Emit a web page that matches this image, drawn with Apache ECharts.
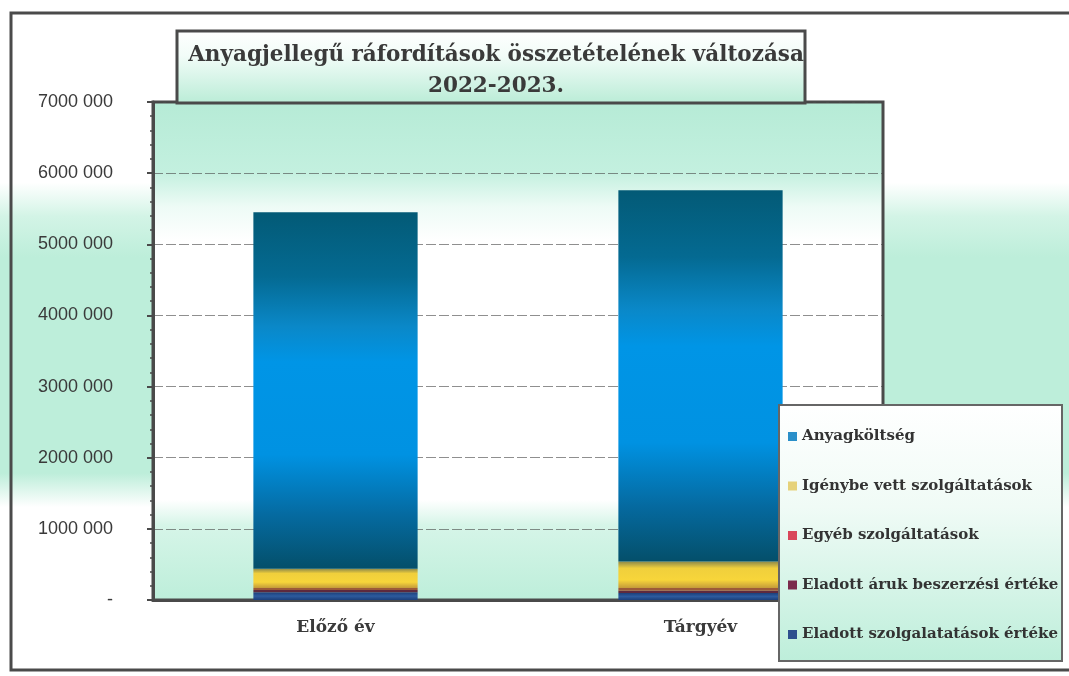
<!DOCTYPE html>
<html>
<head>
<meta charset="utf-8">
<script src="https://cdn.jsdelivr.net/npm/echarts@6/dist/echarts.min.js"></script>
<style>html,body{margin:0;padding:0;background:#fff}#c{width:1069px;height:676px}</style>
</head>
<body>
<div id="c"></div>
<script>
const categories = ['Előző év', 'Tárgyév'];
const seriesNames = ['Anyagköltség', 'Igénybe vett szolgáltatások', 'Egyéb szolgáltatások', 'Eladott áruk beszerzési értéke', 'Eladott szolgalatatások értéke'];
const anyagkoltseg = [5010000, 5220000];
const igenybeVett = [270000, 370000];
const egyebSzolg = [30000, 40000];
const eladottAruk = [30000, 30000];
const eladottSzolg = [110000, 100000];
const yMin = 0, yMax = 7000000, yStep = 1000000;
const titleText = 'Anyagjellegű ráfordítások összetételének változása\n2022-2023.';

const mint = '#bdeeda';
function vgrad(stops) {
  return new echarts.graphic.LinearGradient(0, 0, 0, 1, stops.map(s => ({ offset: s[0], color: s[1] })));
}
const chart = echarts.init(document.getElementById('c'));
const barW = '45%';
const option = {
  animation: false,
  title: {
    text: titleText, left: 491, top: 35, textAlign: 'center', z: 20,
    textStyle: { fontFamily: 'DejaVu Serif', fontWeight: 'bold', fontSize: 21.5, lineHeight: 31, color: '#3a3a3a' }
  },
  legend: {
    orient: 'vertical', left: 783, top: 424, itemGap: 34.5, itemWidth: 9, itemHeight: 9, z: 20,
    icon: 'rect',
    textStyle: { fontFamily: 'DejaVu Serif', fontWeight: 'bold', fontSize: 15, color: '#333' },
    data: [
      { name: seriesNames[0], itemStyle: { color: '#2a8fc9' } },
      { name: seriesNames[1], itemStyle: { color: '#e6d27a' } },
      { name: seriesNames[2], itemStyle: { color: '#d9475a' } },
      { name: seriesNames[3], itemStyle: { color: '#7b2a4c' } },
      { name: seriesNames[4], itemStyle: { color: '#2d4f8e' } }
    ]
  },
  grid: {
    left: 153, right: 186, top: 102, bottom: 76, show: true,
    borderColor: '#4a4a4a', borderWidth: 3, backgroundColor: 'transparent'
  },
  xAxis: {
    type: 'category', data: categories,
    axisLine: { lineStyle: { color: '#4a4a4a', width: 3 } },
    axisTick: { length: 5, lineStyle: { color: '#4a4a4a', width: 2 } },
    axisLabel: { margin: 19, fontFamily: 'DejaVu Serif', fontWeight: 'bold', fontSize: 17, color: '#3a3a3a' }
  },
  yAxis: {
    type: 'value', min: yMin, max: yMax, interval: yStep,
    axisLine: { show: true, lineStyle: { color: '#4a4a4a', width: 3 } },
    axisTick: { show: true, length: 6, lineStyle: { color: '#4a4a4a', width: 2 } },
    minorTick: { show: true, splitNumber: 5, length: 3, lineStyle: { color: '#4a4a4a', width: 1.5 } },
    splitLine: { show: true, lineStyle: { color: '#444', width: 1.2, type: [10, 3], opacity: 0.6 } },
    axisLabel: {
      margin: 40, fontFamily: 'Liberation Sans', fontSize: 18, color: '#3a3a3a',
      formatter: v => v === 0 ? '-' : Math.floor(v / 1000) + ' ' + String(v % 1000).padStart(3, '0')
    }
  },
  graphic: [
    { type: 'rect', z: -10, silent: true, shape: { x: 0, y: 0, width: 1069, height: 676 },
      style: { fill: vgrad([[0, '#ffffff'], [0.27, '#ffffff'], [0.32, '#d3f4e6'], [0.38, mint], [0.7, mint], [0.75, '#ffffff'], [1, '#ffffff']]) } },
    { type: 'rect', z: -5, silent: true, shape: { x: 153, y: 102, width: 730, height: 140 },
      style: { fill: vgrad([[0, '#b6ebd6'], [0.5, '#c3f0df'], [0.75, '#eefbf6'], [1, '#ffffff']]) } },
    { type: 'rect', z: -5, silent: true, shape: { x: 153, y: 241, width: 730, height: 260 },
      style: { fill: '#ffffff' } },
    { type: 'rect', z: -5, silent: true, shape: { x: 153, y: 500, width: 730, height: 100 },
      style: { fill: vgrad([[0, '#ffffff'], [0.25, '#d6f5e8'], [1, '#bdeeda']]) } },
    { type: 'rect', z: 10, silent: true, shape: { x: 177, y: 31, width: 628, height: 72 },
      style: { fill: vgrad([[0, '#ffffff'], [0.35, '#f2fcf8'], [1, '#b9ecd6']]), stroke: '#4a4a4a', lineWidth: 3 } },
    { type: 'rect', z: 10, silent: true, shape: { x: 779, y: 405, width: 283, height: 256 },
      style: { fill: vgrad([[0, '#ffffff'], [0.4, '#f0fbf6'], [1, '#bdeeda']]), stroke: '#666', lineWidth: 2 } },
    { type: 'rect', z: 30, silent: true, shape: { x: 11, y: 13, width: 1080, height: 657 },
      style: { fill: 'none', stroke: '#4a4a4a', lineWidth: 3 } }
  ],
  series: [
    { name: seriesNames[4], type: 'bar', stack: 'a', barWidth: barW, data: eladottSzolg,
      itemStyle: { color: vgrad([[0, '#1b3f7a'], [0.5, '#2d5b9e'], [1, '#1b3f7a']]) } },
    { name: seriesNames[3], type: 'bar', stack: 'a', barWidth: barW, data: eladottAruk,
      itemStyle: { color: '#5e2a3e' } },
    { name: seriesNames[2], type: 'bar', stack: 'a', barWidth: barW, data: egyebSzolg,
      itemStyle: { color: '#9c5a38' } },
    { name: seriesNames[1], type: 'bar', stack: 'a', barWidth: barW, data: igenybeVett,
      itemStyle: { color: vgrad([[0, '#8f8a4a'], [0.25, '#f0cf3c'], [0.7, '#f7d53a'], [1, '#c49b3a']]) } },
    { name: seriesNames[0], type: 'bar', stack: 'a', barWidth: barW, data: anyagkoltseg,
      itemStyle: { color: vgrad([[0, '#035a76'], [0.18, '#046a92'], [0.32, '#0a88c8'], [0.42, '#0095e6'], [0.68, '#0092e2'], [0.85, '#056aa0'], [1, '#044f6a']]) } }
  ]
};
chart.setOption(option);
</script>
</body>
</html>
